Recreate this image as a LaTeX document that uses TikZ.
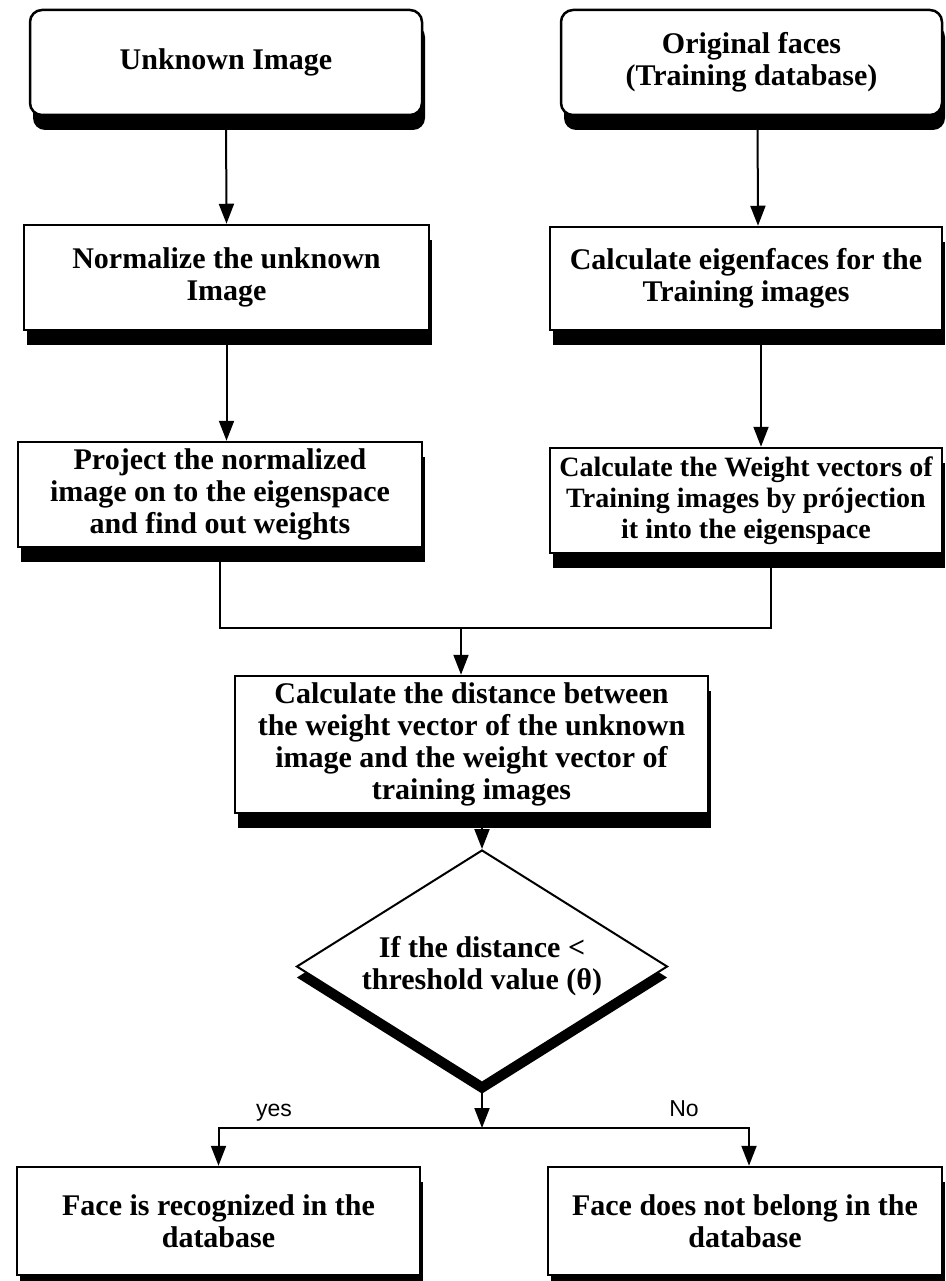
\documentclass[tikz,border=0pt]{standalone}
\usepackage{fontspec}
\setmainfont{Liberation Serif}
\newfontfamily\branchfont{Liberation Sans}
\usepackage{tikz}
\usetikzlibrary{shapes.geometric, arrows.meta, shadows}
\tikzstyle{process} = [rectangle, draw, line width=2.5pt, fill=white, align=center, inner sep=0pt, font=\fontsize{30}{32}\selectfont\bfseries, drop shadow={shadow xshift=3pt, shadow yshift=-15pt, fill=black, opacity=1}]
\tikzstyle{startstop} = [process, rounded corners=12pt]
\tikzstyle{decision} = [diamond, aspect=1.6, draw, line width=2pt, fill=white, align=center, inner sep=0pt, font=\fontsize{30}{32}\selectfont\bfseries, drop shadow={shadow xshift=0pt, shadow yshift=-11pt, fill=black, opacity=1}]
\tikzstyle{arrow} = [line width=2pt, -{Triangle[length=20pt,width=15pt]}]
\tikzstyle{line} = [line width=2pt]
\tikzstyle{branch} = [anchor=base, font=\branchfont\fontsize{23}{26}\selectfont]

\begin{document}
\begin{tikzpicture}[x=1pt, y=-1pt]
				\useasboundingbox (0,0) rectangle (945,1281);
				
				% Boxes:
				% Placed at fixed coordinates, left column and right column
				\node (unknown) [startstop, minimum width=392pt, minimum height=105pt] at (226,62.5) {Unknown Image};
				\node (orig) [startstop, minimum width=381pt, minimum height=105pt] at (751.5,62.5) {Original faces\\(Training database)};
				\node (norm) [process, minimum width=405pt, minimum height=105pt] at (226.5,277.5) {Normalize the unknown\\Image};
				\node (eigen) [process, minimum width=392pt, minimum height=103pt] at (746,278.5) {Calculate eigenfaces for the\\Training images};
				\node (proj) [process, minimum width=404pt, minimum height=105pt] at (220,494.5) {Project the normalized\\image on to the eigenspace\\and find out weights};
				\node (weight) [process, minimum width=392pt, minimum height=105pt, font=\fontsize{28}{31}\selectfont\bfseries] at (746,500.5) {Calculate the Weight vectors of\\Training images by prójection\\it into the eigenspace};
				\node (dist) [process, minimum width=473pt, minimum height=137pt] at (471.5,744.5) {Calculate the distance between\\the weight vector of the unknown\\image and the weight vector of\\training images};
				\node (test) [decision, minimum width=371pt, minimum height=233pt] at (482,966.5) {If the distance <\\threshold value (θ)};
				\node (found) [process, minimum width=403pt, minimum height=108pt] at (218.5,1221) {Face is recognized in the\\database};
				\node (notfound) [process, minimum width=394pt, minimum height=108pt] at (745,1221) {Face does not belong in the\\database};
				
				% Points where the lines meet:
				\coordinate (join) at (461,628);
				\coordinate (split) at (482,1128);
				
				% Arrows:
				\draw[arrow] (unknown.south) -- (norm.north);
				\draw[arrow] ([xshift=6pt]orig.south) -- ([xshift=12pt]eigen.north);
				\draw[arrow] (norm.south) -- (norm.south |- proj.north);
				\draw[arrow] ([xshift=15pt]eigen.south) -- ([xshift=15pt]weight.north);
				\draw[line] (proj.south) |- (join) -| ([xshift=25pt]weight.south);
				\draw[arrow] (join) -- (join |- dist.north);
				\draw[arrow] (test.north |- dist.south) -- (test.north);
				\draw[arrow] (test.south) -- (split);
				\draw[arrow] (split) -| (found.north);
				\draw[arrow] (split) -| ([xshift=4pt]notfound.north);
				
				% Branch labels:
				\node[branch] (yes) at (274,1116) {yes};
				\node[branch] (no) at (684,1116) {No};
\end{tikzpicture}
\end{document}
